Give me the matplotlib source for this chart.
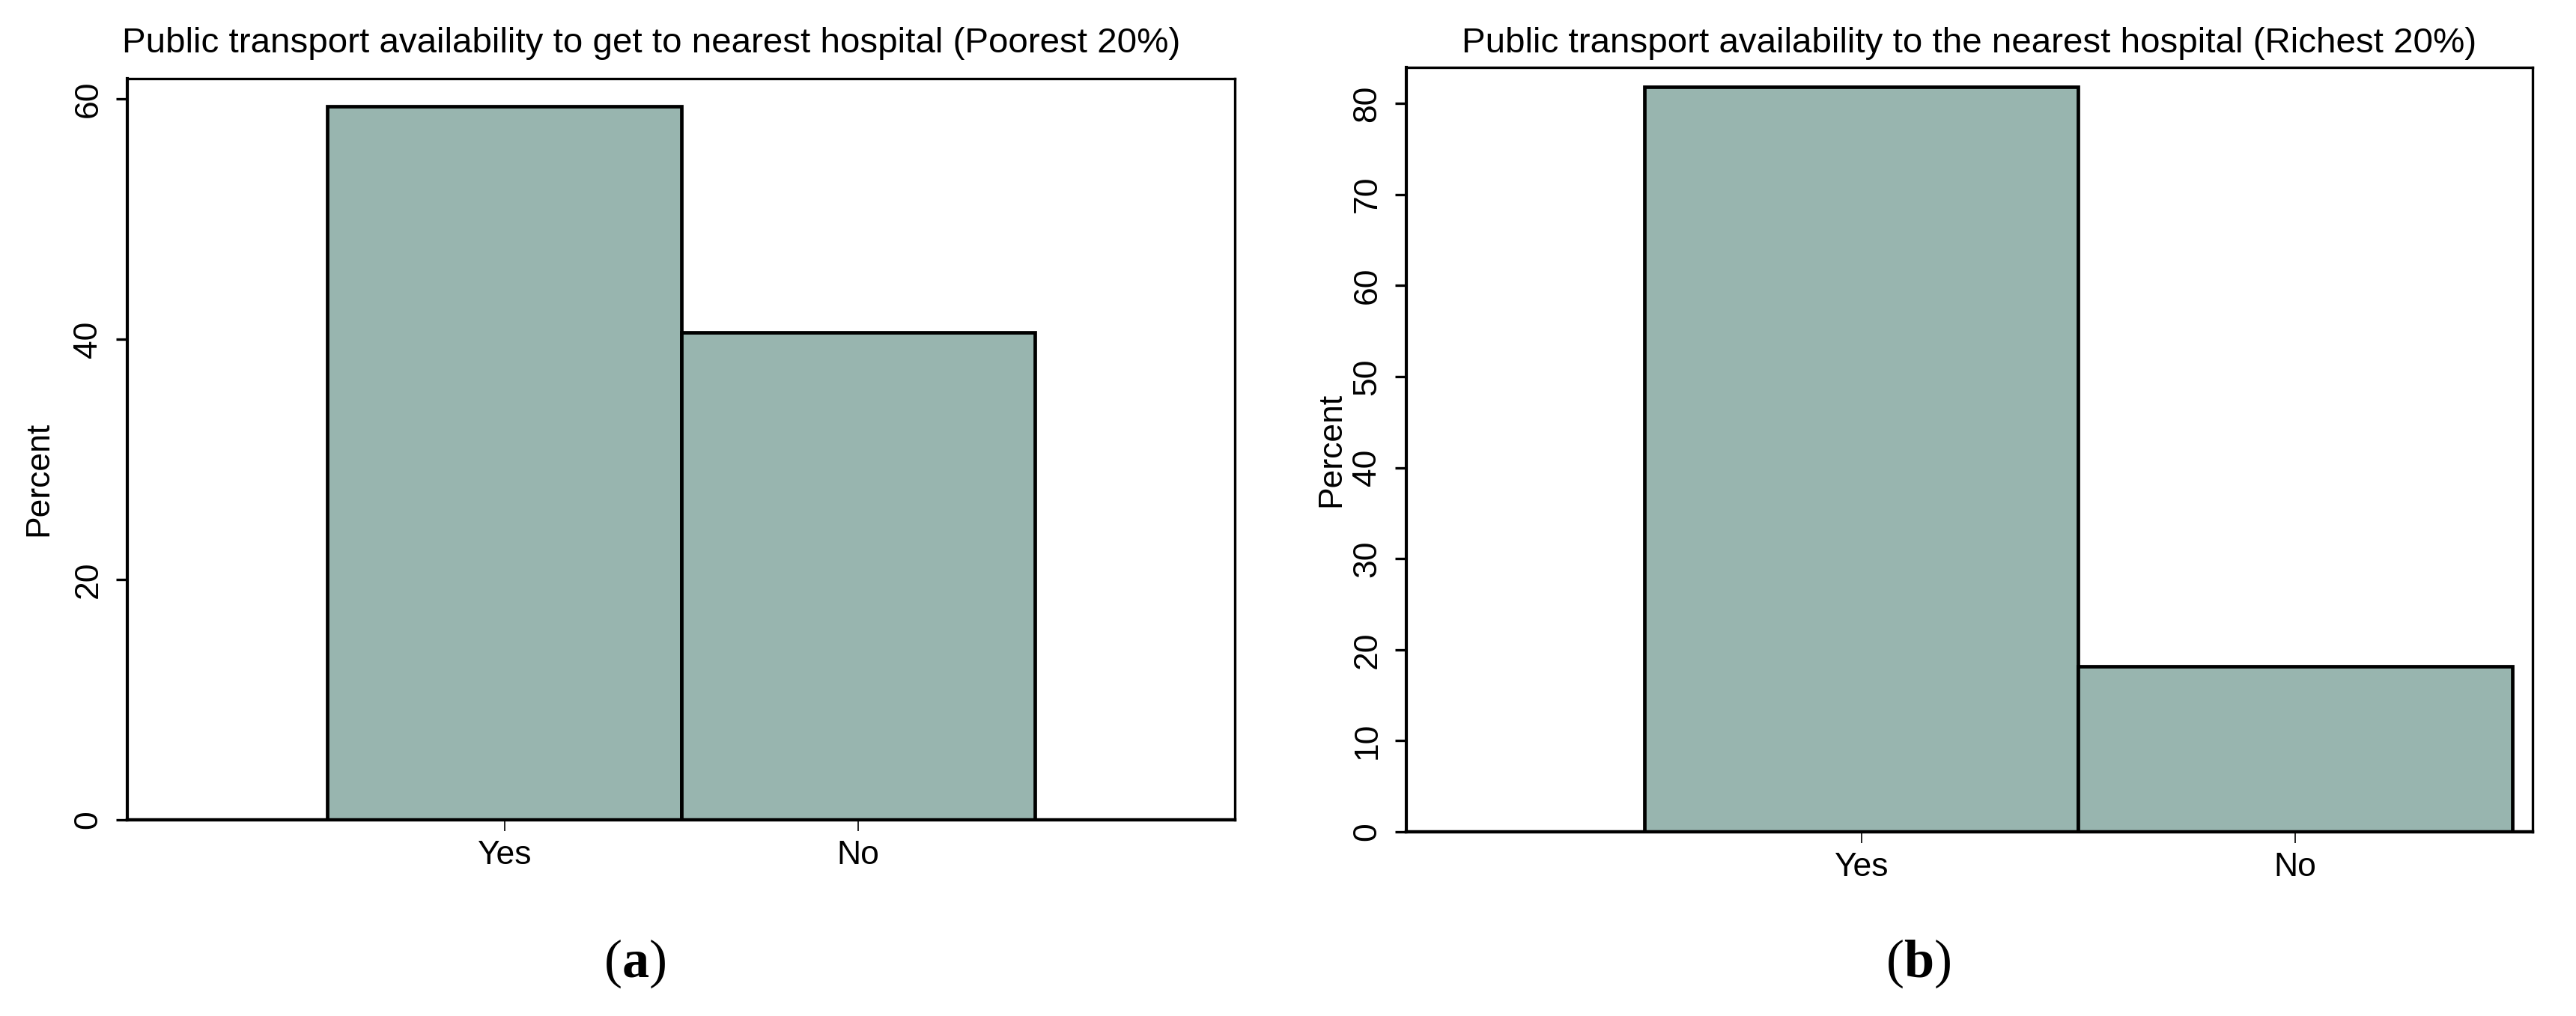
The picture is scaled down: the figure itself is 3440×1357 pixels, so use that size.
import matplotlib
matplotlib.use('Agg')
import matplotlib.pyplot as plt

categories = ['Yes', 'No']
poorest = [59.4, 40.6]
richest = [81.8, 18.2]
title_a = 'Public transport availability to get to nearest hospital (Poorest 20%)'
title_b = 'Public transport availability to the nearest hospital (Richest 20%)'
yticks_a = [0, 20, 40, 60]
yticks_b = [0, 10, 20, 30, 40, 50, 60, 70, 80]

bar_color = '#98b5af'
plt.rcParams['font.family'] = ['Liberation Sans', 'DejaVu Sans']
plt.rcParams['mathtext.fontset'] = 'custom'
plt.rcParams['mathtext.rm'] = 'Liberation Serif'
plt.rcParams['mathtext.bf'] = 'Liberation Serif:bold'

W, H, dpi = 3440, 1357, 200
fig = plt.figure(figsize=(W / dpi, H / dpi), dpi=dpi)

ax1 = fig.add_axes([170 / W, 1 - 1095 / H, 1479 / W, 990 / H])
ax2 = fig.add_axes([1878 / W, 1 - 1111 / H, 1504 / W, 1021.5 / H])

x = [1, 2]
for ax, vals, yt, xlim, ylim in [
    (ax1, poorest, yticks_a, (-0.066, 3.064), (0, 61.7)),
    (ax2, richest, yticks_b, (-0.049, 2.547), (0, 84.0)),
]:
    ax.bar(x, vals, width=1, color=bar_color, edgecolor='black', linewidth=1.7)
    ax.set_xlim(*xlim)
    ax.set_ylim(*ylim)
    ax.set_xticks(x, categories)
    ax.set_yticks(yt)
    ax.tick_params(axis='x', length=5.4, width=0.6, pad=4.3, labelsize=16)
    ax.tick_params(axis='y', length=5.4, width=1.2, pad=6, labelsize=16,
                   labelrotation=90)
    for lbl in ax.get_yticklabels():
        lbl.set_va('center')
    for s in ax.spines.values():
        s.set_linewidth(1.2)
    ax.spines['left'].set_linewidth(1.5)
    ax.spines['bottom'].set_linewidth(1.6)
    ax.set_ylabel('Percent', fontsize=16)
    ax.yaxis.label.set_va('center')

ax1.yaxis.set_label_coords((52 - 170) / 1479, 0.46)
ax2.yaxis.set_label_coords((1778 - 1878) / 1504, 0.50)

fig.text(870 / W, 1 - 70 / H, title_a, ha='center', va='baseline', fontsize=17.1)
fig.text(2630 / W, 1 - 70 / H, title_b, ha='center', va='baseline', fontsize=17.1)

for xc, letter in [(848, 'a'), (2562, 'b')]:
    fig.text(xc / W, 1 - 1287 / H, r'$(\mathbf{' + letter + '})$', ha='center',
             va='center', fontsize=26)

fig.savefig('out.png', dpi=dpi)
